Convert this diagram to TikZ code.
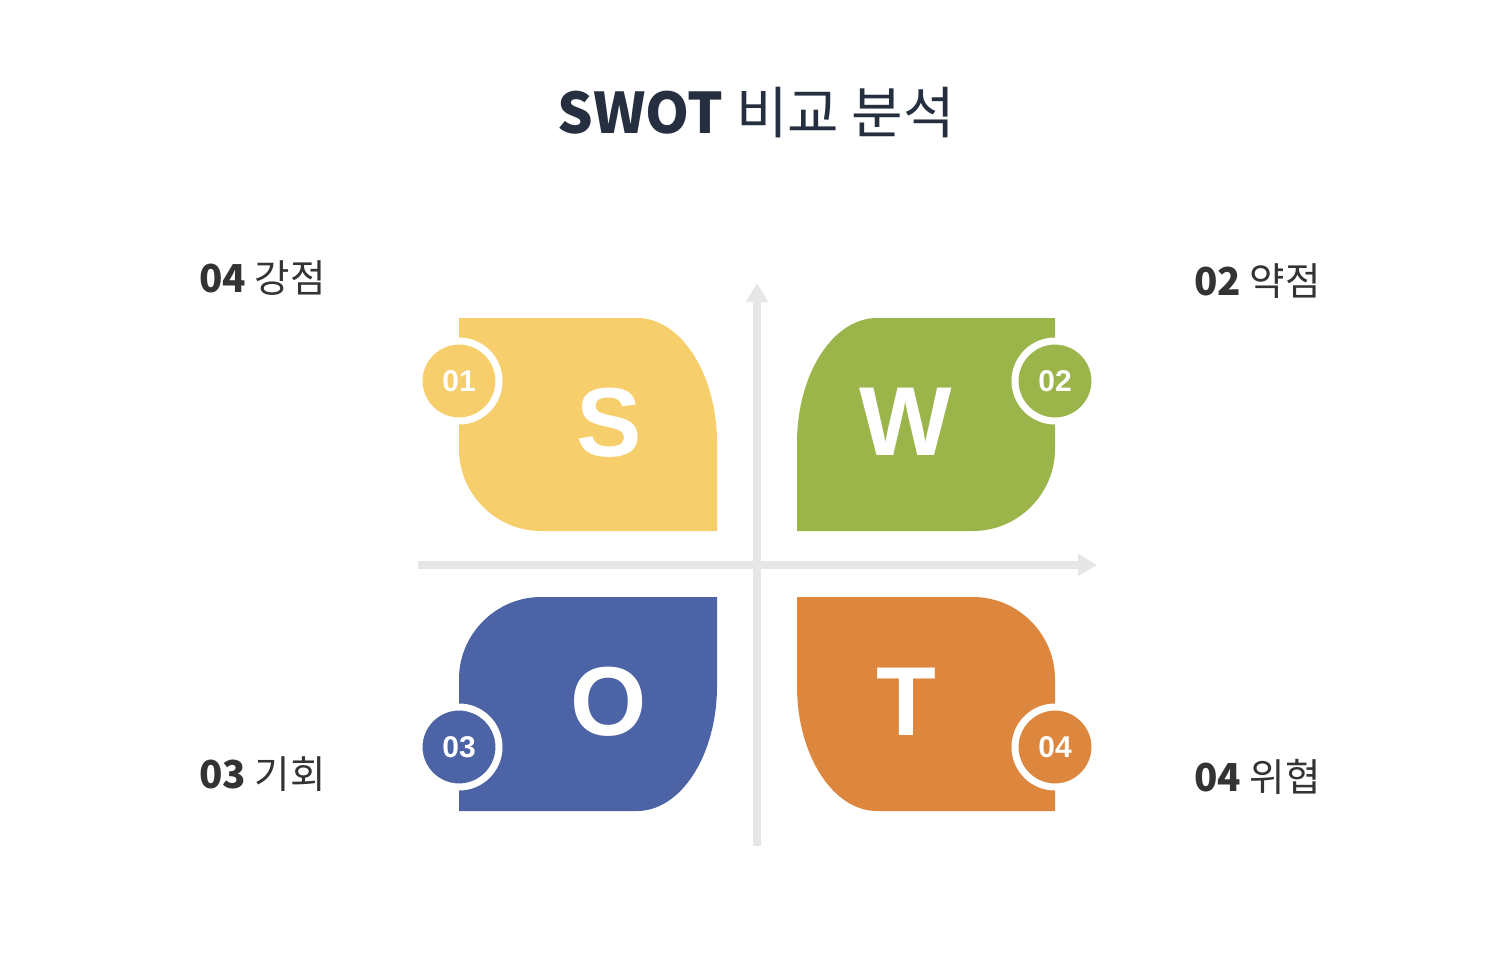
\documentclass[tikz,border=0pt]{standalone}
\usepackage{fontspec}
\usetikzlibrary{arrows.meta}
\newfontfamily\kr{Noto Sans CJK KR}
\newfontfamily\arialb{Liberation Sans}
\definecolor{cS}{HTML}{F6CF6C}
\definecolor{cW}{HTML}{9BB54B}
\definecolor{cO}{HTML}{4C64A6}
\definecolor{cT}{HTML}{DD863D}
\definecolor{axisgray}{HTML}{E6E6E6}
\definecolor{titlec}{HTML}{252F40}
\definecolor{labelc}{HTML}{333333}
\tikzset{
  axisline/.style={draw=axisgray, line width=8pt, -{Triangle[width=21pt,length=19pt]}},
  bigletter/.style={text=white, font=\arialb\bfseries\fontsize{98}{100}\selectfont, inner sep=0pt},
  badge/.style={circle, minimum size=80pt, inner sep=0pt, draw=white, line width=7pt,
     text=white, font=\arialb\bfseries\fontsize{30}{32}\selectfont},
  sidelabel/.style={anchor=base west, inner sep=0pt, text=labelc, font=\kr\fontsize{38.5}{44}\selectfont},
}
\begin{document}
\begin{tikzpicture}[x=1pt,y=-1pt]
\useasboundingbox (0,0) rectangle (1494,962);
\fill[white] (0,0) rectangle (1494,962);

% title
\node[anchor=base, inner sep=0pt, text=titlec, font=\kr\fontsize{56}{62}\selectfont] (title) at (756,133) {\textbf{SWOT} 비교 분석};

% axes
\coordinate (vbot) at (757,846);
\coordinate (vtop) at (757,283);
\coordinate (hleft) at (418,565);
\coordinate (hright) at (1097,565);
\draw[axisline] (vbot) -- (vtop);
\draw[axisline] (hleft) -- (hright);

% S
\fill[cS] (459,318) -- (637,318) .. controls (681,318) and (717,374) .. (717,443) -- (717,531) -- (541,531)
  .. controls (496,531) and (459,494) .. (459,449) -- cycle;
% W
\fill[cW] (1055,318) -- (877,318) .. controls (833,318) and (797,374) .. (797,443) -- (797,531) -- (973,531)
  .. controls (1018,531) and (1055,494) .. (1055,449) -- cycle;
% O
\fill[cO] (541,597) -- (717,597) -- (717,686) .. controls (717,755) and (681,811) .. (637,811) -- (459,811)
  -- (459,679) .. controls (459,634) and (496,597) .. (541,597) -- cycle;
% T
\fill[cT] (797,597) -- (973,597) .. controls (1018,597) and (1055,634) .. (1055,679) -- (1055,811) -- (877,811)
  .. controls (833,811) and (797,755) .. (797,686) -- cycle;

% letters
\node[bigletter] (S) at (609,423) {S};
\node[bigletter] (W) at (906,422) {W};
\node[bigletter] (O) at (609,702) {O};
\node[bigletter] (T) at (906,702) {T};

% badges
\node[badge, fill=cS] (b1) at (459,381) {01};
\node[badge, fill=cW] (b2) at (1055,381) {02};
\node[badge, fill=cO] (b3) at (459,747) {03};
\node[badge, fill=cT] (b4) at (1055,747) {04};

% side labels
\node[sidelabel] (l1) at (199,292) {\textbf{04} 강점};
\node[sidelabel] (l2) at (1194,295) {\textbf{02} 약점};
\node[sidelabel] (l3) at (199,788) {\textbf{03} 기회};
\node[sidelabel] (l4) at (1194,791) {\textbf{04} 위협};
\end{tikzpicture}
\end{document}
